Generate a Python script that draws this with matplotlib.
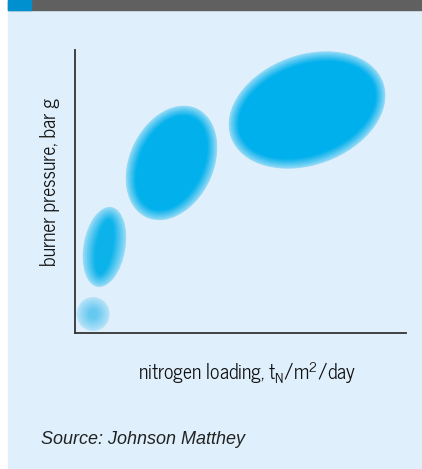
import numpy as np
import matplotlib.pyplot as plt
from matplotlib.patches import Ellipse, Rectangle
from matplotlib.colors import to_rgb

label_font = 'News Cycle'
plt.rcParams['mathtext.fontset'] = 'custom'
plt.rcParams['mathtext.rm'] = label_font
plt.rcParams['mathtext.it'] = label_font

# operating regions (arbitrary units)
regions = ['small', 'medium', 'large', 'very large']
cx = [0.64, 1.04, 3.41, 8.20]
cy = [0.67, 3.04, 6.01, 7.88]
widths = [1.17, 1.48, 2.97, 5.72]
heights = [1.20, 2.86, 4.24, 3.89]
angles = [0, -10, -25, 20]
cores = ['#66c9f0', '#0cb3eb', '#02b1eb', '#00b0ec']
bands = [0.45, 0.45, 0.36, 0.36]

bg = '#dff0fc'

fig = plt.figure(figsize=(4.22, 4.69), dpi=100)
W, H = 422, 469

def fr(x, y, w, h):
    return (x / W, 1 - (y + h) / H, w / W, h / H)

def box(x, y, w, h, color):
    r = Rectangle(fr(x, y, w, h)[:2], w / W, h / H, transform=fig.transFigure,
                  color=color, zorder=-10)
    fig.patches.append(r)

box(8, 10, 414, 459, bg)
box(8, 0, 414, 10, '#606060')
box(8, 0, 23, 10, '#0090d0')

ax = fig.add_axes(fr(75, 50, 331, 283))
ax.set_facecolor('none')
ax.set_xlim(0, 331 / 28.3)
ax.set_ylim(0, 10)
for s in ['top', 'right']:
    ax.spines[s].set_visible(False)
for s in ['left', 'bottom']:
    ax.spines[s].set_color('#333333')
    ax.spines[s].set_linewidth(1.3)
ax.set_xticks([])
ax.set_yticks([])

# soft edged blobs: stack of shrinking ellipses blending from bg to core colour
bgc = np.array(to_rgb(bg))
n = 30
for x, y, w, h, a, c, b in zip(cx, cy, widths, heights, angles, cores, bands):
    cc = np.array(to_rgb(c))
    for i in range(n):
        t = i / (n - 1)
        d = b * t
        f = 0.3 + 0.7 * t ** 0.9
        col = bgc * (1 - f) + cc * f
        ax.add_patch(Ellipse((x, y), w - 2 * d, h - 2 * d, angle=a,
                             color=col, lw=0, clip_on=False))

fig.text(50 / W, 1 - 182 / H, 'burner pressure, bar g', rotation=90,
         ha='center', va='center', fontsize=14.2, family=label_font,
         color='#111111')
fig.text(247 / W, 1 - 373 / H, r'nitrogen loading, t$_{\rm N}$/m$^2$/day',
         ha='center', va='center', fontsize=14.2, family=label_font,
         color='#111111')
fig.text(41 / W, 1 - 439 / H, 'Source: Johnson Matthey', ha='left', va='center',
         fontsize=13, family='Liberation Sans', style='italic', color='#222222')

plt.savefig('out.png', dpi=100)
